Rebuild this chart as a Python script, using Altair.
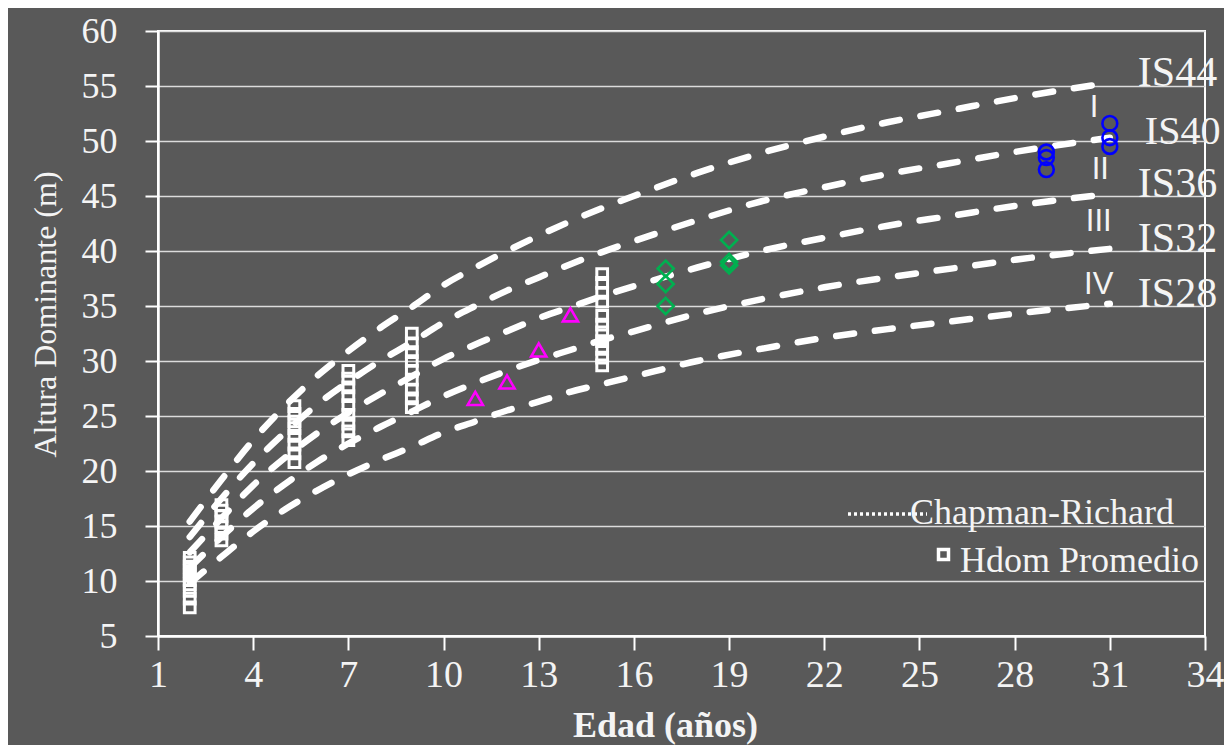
import altair as alt
import pandas as pd

# ---------------- data ----------------
ages = [2, 3, 4, 5, 6, 7, 8, 9, 10, 11, 12, 13, 14, 15, 16, 18, 20, 22, 24, 26, 28, 31]
is44 = [15.4, 19.2, 22.8, 25.9, 28.6, 30.9, 33.0, 34.9, 36.9, 38.5, 40.0, 41.4, 42.7, 43.9, 45.0, 47.1, 48.9, 50.4, 51.7, 52.8, 53.9, 55.3]
is40 = [14.0, 17.5, 20.7, 23.5, 26.0, 28.1, 30.0, 31.7, 33.5, 35.0, 36.4, 37.6, 38.8, 39.9, 40.9, 42.8, 44.5, 45.8, 47.0, 48.0, 49.0, 50.3]
is36 = [12.6, 15.7, 18.7, 21.2, 23.4, 25.3, 27.0, 28.6, 30.2, 31.5, 32.7, 33.9, 34.9, 35.9, 36.8, 38.5, 40.0, 41.2, 42.3, 43.2, 44.1, 45.2]
is32 = [11.2, 14.0, 16.6, 18.8, 20.8, 22.5, 24.0, 25.4, 26.8, 28.0, 29.1, 30.1, 31.0, 31.9, 32.7, 34.3, 35.6, 36.7, 37.6, 38.4, 39.2, 40.2]
is28 = [9.8, 12.2, 14.5, 16.5, 18.2, 19.7, 21.0, 22.2, 23.5, 24.5, 25.5, 26.3, 27.2, 27.9, 28.6, 30.0, 31.1, 32.1, 32.9, 33.6, 34.3, 35.2]
curve_names = ["IS44", "IS40", "IS36", "IS32", "IS28"]
curve_values = [is44, is40, is36, is32, is28]

# Hdom promedio (white squares)
sq_age = [2] * 10 + [3] * 7 + [5.3] * 8 + [7] * 9 + [9] * 9 + [15] * 11
sq_h = ([7.6, 8.4, 9.1, 9.7, 10.1, 10.5, 10.9, 11.3, 11.7, 12.1]
        + [13.7, 14.3, 14.9, 15.4, 15.9, 16.4, 16.9]
        + [20.8, 21.6, 22.4, 23.2, 23.9, 24.5, 25.2, 25.9]
        + [22.8, 23.6, 24.3, 25.1, 26.0, 26.8, 27.6, 28.4, 29.1]
        + [25.8, 26.6, 27.4, 28.3, 29.1, 30.0, 30.8, 31.6, 32.5]
        + [29.6, 30.3, 31.1, 31.8, 32.6, 33.3, 34.1, 35.4, 36.2, 37.1, 37.9])

tri_age = [11, 12, 13, 14]
tri_h = [26.6, 28.1, 31.0, 34.2]

dia_age = [17, 17, 17, 19, 19, 19]
dia_h = [38.4, 37.0, 35.0, 41.0, 39.0, 38.7]

cir_age = [29, 29, 29, 31, 31, 31]
cir_h = [49.0, 48.5, 47.4, 51.6, 50.3, 49.5]

zone_labels = ["I", "II", "III", "IV"]
zone_age = [30.5, 30.7, 30.65, 30.65]
zone_h = [53.0, 47.4, 42.6, 36.9]

legend_labels = ["Chapman-Richard", "Hdom Promedio"]

x_ticks = [1, 4, 7, 10, 13, 16, 19, 22, 25, 28, 31, 34]
y_ticks = [5, 10, 15, 20, 25, 30, 35, 40, 45, 50, 55, 60]

# ---------------- tables ----------------
curve_df = pd.concat(
    [pd.DataFrame({"edad": ages, "altura": v, "curva": n}) for n, v in zip(curve_names, curve_values)],
    ignore_index=True,
)
end_df = pd.DataFrame({"edad": [ages[-1]] * 5, "altura": [v[-1] for v in curve_values], "label": curve_names})
sq_df = pd.DataFrame({"edad": sq_age, "altura": sq_h})
tri_df = pd.DataFrame({"edad": tri_age, "altura": tri_h})
dia_df = pd.DataFrame({"edad": dia_age, "altura": dia_h})
cir_df = pd.DataFrame({"edad": cir_age, "altura": cir_h})
zone_df = pd.DataFrame({"edad": zone_age, "altura": zone_h, "label": zone_labels})

TXT = "#f4f4f4"
SERIF = "Liberation Serif"

x_axis = alt.Axis(
    values=x_ticks, grid=False, domainColor="white", domainWidth=2.5,
    tickColor="white", tickWidth=2, tickSize=14, labelFont=SERIF, labelFontSize=38,
    labelColor=TXT, labelPadding=6, labelFlush=False, labelOverlap=False,
    title="Edad (años)", titleFont=SERIF, titleFontSize=36, titleFontWeight="bold",
    titleColor=TXT, titleX=507, titleY=100, titleBaseline="alphabetic", titleAlign="center",
)
y_axis = alt.Axis(
    values=y_ticks, grid=True, gridColor="#dcdcdc", gridWidth=1.5,
    domainColor="white", domainWidth=2.5, tickColor="white", tickWidth=2, tickSize=13,
    labelFont=SERIF, labelFontSize=36, labelColor=TXT, labelPadding=28, labelOverlap=False,
    title="Altura Dominante (m)", titleFont=SERIF, titleFontSize=32, titleFontWeight="normal",
    titleColor=TXT, titleAngle=270, titleX=-96, titleY=283, titleAlign="center", titleBaseline="bottom",
)
X = alt.X("edad:Q", scale=alt.Scale(domain=[1, 34], nice=False, zero=False), axis=x_axis)
Y = alt.Y("altura:Q", scale=alt.Scale(domain=[5, 60], nice=False, zero=False), axis=y_axis)

curves = alt.Chart(curve_df).mark_line(
    color="white", strokeWidth=6.5, strokeDash=[18, 21], strokeCap="round", interpolate="monotone"
).encode(x=X, y=Y, detail="curva:N")

squares = alt.Chart(sq_df).mark_point(shape="square", size=115, filled=False, color="white", strokeWidth=3, opacity=1).encode(x=X, y=Y)
triangles = alt.Chart(tri_df).mark_point(shape="triangle-up", size=230, filled=False, color="#FF00FF", strokeWidth=2.6, opacity=1).encode(x=X, y=Y)
diamonds = alt.Chart(dia_df).mark_point(shape="diamond", size=260, filled=False, color="#00B050", strokeWidth=2.6, opacity=1).encode(x=X, y=Y)
circles = alt.Chart(cir_df).mark_point(shape="circle", size=220, filled=False, color="#0000FF", strokeWidth=2.6, opacity=1).encode(x=X, y=Y)

is_labels = alt.Chart(end_df).transform_filter(alt.datum.label != "IS40").mark_text(
    font=SERIF, fontSize=42, color=TXT, align="left", baseline="middle", dx=28, dy=-10
).encode(x=X, y=Y, text="label:N")
is40_label = alt.Chart(end_df).transform_filter(alt.datum.label == "IS40").mark_text(
    font=SERIF, fontSize=40, color=TXT, align="left", baseline="middle", dx=35, dy=-6
).encode(x=X, y=Y, text="label:N")

zones = alt.Chart(zone_df).mark_text(
    font="Liberation Sans", fontSize=31, color=TXT, align="center", baseline="middle"
).encode(x=X, y=Y, text="label:N")

leg_df = pd.DataFrame({"label": legend_labels})
leg_line = alt.Chart(leg_df.head(1)).mark_rule(color="white", strokeWidth=3.5, strokeDash=[3, 3]).encode(
    x=alt.value(690), x2=alt.value(769), y=alt.value(483)
)
leg_text1 = alt.Chart(leg_df.head(1)).mark_text(font=SERIF, fontSize=36, color=TXT, align="left", baseline="alphabetic").encode(
    x=alt.value(752), y=alt.value(493), text="label:N"
)
leg_square = alt.Chart(leg_df.tail(1)).mark_point(shape="square", size=100, filled=False, color="white", strokeWidth=3.5, opacity=1).encode(
    x=alt.value(785.5), y=alt.value(523.5)
)
leg_text2 = alt.Chart(leg_df.tail(1)).mark_text(font=SERIF, fontSize=36, color=TXT, align="left", baseline="alphabetic").encode(
    x=alt.value(802), y=alt.value(541), text="label:N"
)

chart = alt.layer(
    curves, squares, triangles, diamonds, circles, is_labels, is40_label, zones,
    leg_line, leg_text1, leg_square, leg_text2,
).properties(
    width=1047, height=605,
    padding={"left": 150, "top": 23, "right": 19, "bottom": 109},
    autosize=alt.AutoSizeParams(type="none"),
).configure(background="#595959").configure_view(stroke="white", strokeWidth=2)

chart.save("out.html", embed_options={"renderer": "svg", "actions": False})
